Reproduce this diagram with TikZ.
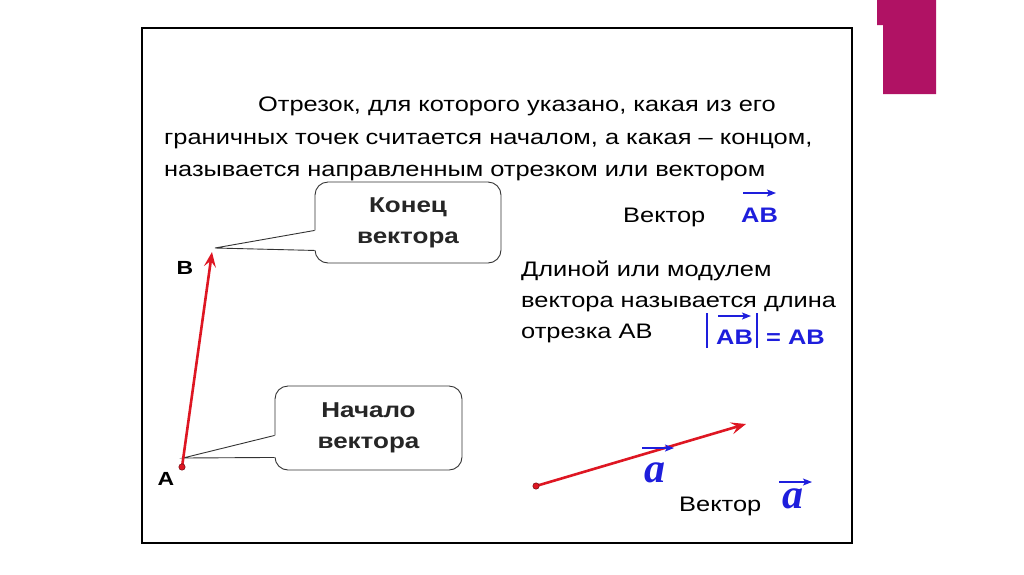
\documentclass[tikz,border=0pt]{standalone}
\usepackage{fontspec}
\setmainfont{Liberation Sans}[FakeStretch=1.21]
\newfontfamily\serifface{Liberation Serif}
\usetikzlibrary{arrows.meta,calc}
\definecolor{vred}{RGB}{222,22,34}
\definecolor{vblue}{RGB}{30,30,220}
\definecolor{plum}{RGB}{176,18,100}
\begin{document}
\begin{tikzpicture}[x=1pt,y=-1pt,
  txt/.style={font=\fontsize{21}{25}\selectfont, inner sep=0pt, text=black},
  boldtxt/.style={font=\fontsize{21}{25}\selectfont\bfseries, inner sep=0pt},
  callout/.style={draw=black!80, line width=0.9pt, rounded corners=13pt, fill=white, align=center, font=\fontsize{21.5}{31}\selectfont\bfseries, text=black!85},
  redvec/.style={draw=vred, line width=2.6pt, -{Stealth[length=15pt,width=12pt,inset=6pt]}},
  bluearr/.style={draw=vblue, line width=1.2pt, -{Stealth[length=9pt,width=7pt,inset=2pt]}},
  letter/.style={font=\serifface\bfseries\itshape\fontsize{42}{42}\selectfont, text=vblue, inner sep=0pt},
  ptlabel/.style={font=\fontsize{19}{20}\selectfont\bfseries, inner sep=0pt},
]
\useasboundingbox (0,0) rectangle (1024,574);
\fill[white] (0,0) rectangle (1024,574);
\fill[plum] (877,0) -- (936,0) -- (936,94) -- (883,94) -- (883,25) -- (877,25) -- cycle;
\draw[line width=2.5pt] (142,28) rectangle (852,543);

\node[txt, anchor=base west] (l1) at (258,111) {Отрезок, для которого указано, какая из его};
\node[txt, anchor=base west] (l2) at (164,144) {граничных точек считается началом, а какая – концом,};
\node[txt, anchor=base west] (l3) at (164,176) {называется направленным отрезком или вектором};

% callout: end
\node[callout, minimum width=186pt, minimum height=81pt] (konec) at (408,222.5) {Конец\\вектора};
\coordinate (Btip) at (215,248);
\coordinate (kp1) at ($(konec.south west)+(0,-33)$);
\coordinate (kp2) at ($(konec.south west)+(0,-13)$);
\fill[white] (kp1) -- (Btip) -- (kp2) -- ($(kp2)+(2,0)$) -- ($(kp1)+(2,0)$) -- cycle;
\draw[black!80, line width=0.9pt] (kp1) -- (Btip) -- (kp2);

% callout: start
\node[callout, minimum width=187pt, minimum height=84pt] (nach) at (368.5,428) {Начало\\вектора};
\coordinate (Atip) at (183,458);
\coordinate (np1) at ($(nach.south west)+(0,-35)$);
\coordinate (np2) at ($(nach.south west)+(0,-13)$);
\fill[white] (np1) -- (Atip) -- (np2) -- ($(np2)+(2,0)$) -- ($(np1)+(2,0)$) -- cycle;
\draw[black!80, line width=0.9pt] (np1) -- (Atip) -- (np2);

% vector AB
\coordinate (A) at (182,467);
\coordinate (B) at (212,252);
\draw[redvec] (A) -- (B);
\fill[vred] (A) circle (3.2pt);
\draw[black!50!vred, line width=0.5pt] (A) circle (3.2pt);
\node[ptlabel] (Alab) at (166,479) {A};
\node[ptlabel] (Blab) at (185,268) {B};

% right texts
\node[txt, anchor=base west] (vek1) at (623,222) {Вектор};
\node[boldtxt, text=vblue, anchor=base west] (AB1) at (741,222) {AB};
\draw[bluearr] (743,193) -- (776,193);

\node[txt, anchor=base west] (d1) at (521,276) {Длиной или модулем};
\node[txt, anchor=base west] (d2) at (521,307) {вектора называется длина};
\node[txt, anchor=base west] (d3) at (521,338) {отрезка AB};

\draw[vblue, line width=2pt] (707,313) -- (707,348);
\draw[vblue, line width=2pt] (757,313) -- (757,348);
\node[boldtxt, text=vblue, anchor=base west] (AB2) at (716,344) {AB};
\draw[bluearr] (718,316) -- (751,316);
\node[boldtxt, text=vblue, anchor=base west] (eqAB) at (766,344) {= AB};

% vector a
\coordinate (P) at (536,486);
\coordinate (Q) at (746,424);
\draw[redvec] (P) -- (Q);
\fill[vred] (P) circle (3.2pt);
\draw[black!50!vred, line width=0.5pt] (P) circle (3.2pt);
\node[letter] (a1) at (655,473) {a};
\draw[bluearr] (642,448) -- (674,448);
\node[txt, anchor=base west] (vek2) at (679,511) {Вектор};
\node[letter] (a2) at (793,499) {a};
\draw[bluearr] (779,482) -- (812,482);
\end{tikzpicture}
\end{document}
